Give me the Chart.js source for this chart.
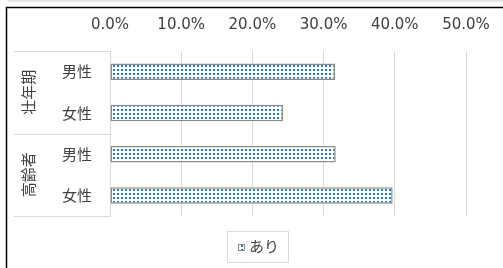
<!DOCTYPE html>
<html>
<head>
<meta charset="utf-8">
<script src="https://cdn.jsdelivr.net/npm/chart.js@4/dist/chart.umd.min.js"></script>
<style>
  html, body { margin: 0; padding: 0; background: #fff; }
  #wrap { width: 503px; height: 268px; position: relative; }
</style>
</head>
<body>
<div id="wrap"><canvas id="c" width="503" height="268"></canvas></div>
<script>
// data
const groups = ['壮年期', '高齢者'];
const subLabels = ['男性', '女性', '男性', '女性'];
const seriesName = 'あり';
const values = [31.6, 24.3, 31.7, 39.7];
const xMin = 0, xMax = 50, xStep = 10;

const FONT = "'DejaVu Sans', 'Noto Sans CJK JP', sans-serif";
const JFONT = "'Noto Sans CJK JP', sans-serif";
const TEXT = '#404040';

// dotted fill like the office pattern
function makePattern() {
  const t = document.createElement('canvas');
  t.width = 4; t.height = 4;
  const g = t.getContext('2d');
  g.fillStyle = '#ffffff';
  g.fillRect(0, 0, 4, 4);
  g.fillStyle = '#1a7ad4';
  g.fillRect(1, 1, 2, 2);
  return document.getElementById('c').getContext('2d').createPattern(t, 'repeat');
}
const dots = makePattern();

// frame, category box, group labels and legend box
const extras = {
  id: 'extras',
  beforeDraw(chart) {
    const ctx = chart.ctx;
    ctx.save();
    ctx.fillStyle = '#fff';
    ctx.fillRect(0, 0, chart.width, chart.height);
    ctx.fillStyle = '#e3e3e3';
    ctx.fillRect(8, 0, chart.width - 8, 2);
    ctx.strokeStyle = '#000';
    ctx.lineWidth = 1.5;
    ctx.beginPath();
    ctx.moveTo(6.5, chart.height);
    ctx.lineTo(6.5, 7.5);
    ctx.lineTo(chart.width, 7.5);
    ctx.stroke();
    ctx.restore();
  },
  afterDraw(chart) {
    const ctx = chart.ctx;
    const area = chart.chartArea;
    const y = chart.scales.y;
    const left = 14;
    ctx.save();
    ctx.strokeStyle = '#d9d9d9';
    ctx.lineWidth = 1;
    // box lines of the category area
    const rows = [area.top];
    for (let g = 0; g < groups.length; g++) {
      const last = (g + 1) * 2 - 1;
      const next = last + 1 < subLabels.length ? y.getPixelForValue(last + 1) : null;
      const here = y.getPixelForValue(last);
      rows.push(next === null ? area.bottom : (here + next) / 2);
    }
    ctx.beginPath();
    rows.forEach(r => {
      ctx.moveTo(left, Math.round(r) + 0.5);
      ctx.lineTo(area.left, Math.round(r) + 0.5);
    });
    ctx.stroke();

    // group labels, rotated
    ctx.fillStyle = TEXT;
    ctx.font = '15px ' + JFONT;
    ctx.textAlign = 'center';
    ctx.textBaseline = 'middle';
    groups.forEach((name, g) => {
      const cy = (y.getPixelForValue(g * 2) + y.getPixelForValue(g * 2 + 1)) / 2;
      ctx.save();
      ctx.translate(28, cy);
      ctx.rotate(-Math.PI / 2);
      ctx.fillText(name, 0, 0);
      ctx.restore();
    });

    // legend
    const ds = chart.data.datasets[0];
    ctx.strokeStyle = '#d9d9d9';
    ctx.strokeRect(227.5, 231.5, 61, 31);
    ctx.fillStyle = ds.backgroundColor;
    ctx.fillRect(238, 244, 7, 7);
    ctx.strokeStyle = '#8a8a8a';
    ctx.strokeRect(238.5, 244.5, 6, 6);
    ctx.fillStyle = TEXT;
    ctx.textAlign = 'left';
    ctx.fillText(ds.label, 249, 246);
    ctx.restore();
  }
};

new Chart(document.getElementById('c'), {
  type: 'bar',
  data: {
    labels: subLabels,
    datasets: [{
      label: seriesName,
      data: values,
      backgroundColor: dots,
      borderColor: '#8a8a8a',
      borderWidth: 1.5,
      borderSkipped: false,
      categoryPercentage: 1,
      barPercentage: 0.4
    }]
  },
  options: {
    indexAxis: 'y',
    responsive: false,
    animation: false,
    layout: { padding: { left: 14, right: 37, top: 0, bottom: 52 } },
    plugins: {
      legend: { display: false },
      tooltip: { enabled: false }
    },
    scales: {
      x: {
        position: 'top',
        min: xMin,
        max: xMax,
        ticks: {
          stepSize: xStep,
          padding: 17,
          color: TEXT,
          font: { family: FONT, size: 15 },
          callback: v => v.toFixed(1) + '%'
        },
        grid: { color: '#d9d9d9', drawTicks: false },
        border: { display: false },
        afterFit: s => {
          s.height = 51;
          // labels fit in the right margin, no extra shrink
          s.paddingLeft = 0;
          s.paddingRight = 0;
        }
      },
      y: {
        ticks: {
          padding: 18,
          color: TEXT,
          font: { family: JFONT, size: 15 }
        },
        grid: { display: false, drawTicks: false },
        border: { display: true, color: '#d9d9d9' },
        afterFit: s => { s.width = 96; }
      }
    }
  },
  plugins: [extras]
});
</script>
</body>
</html>
